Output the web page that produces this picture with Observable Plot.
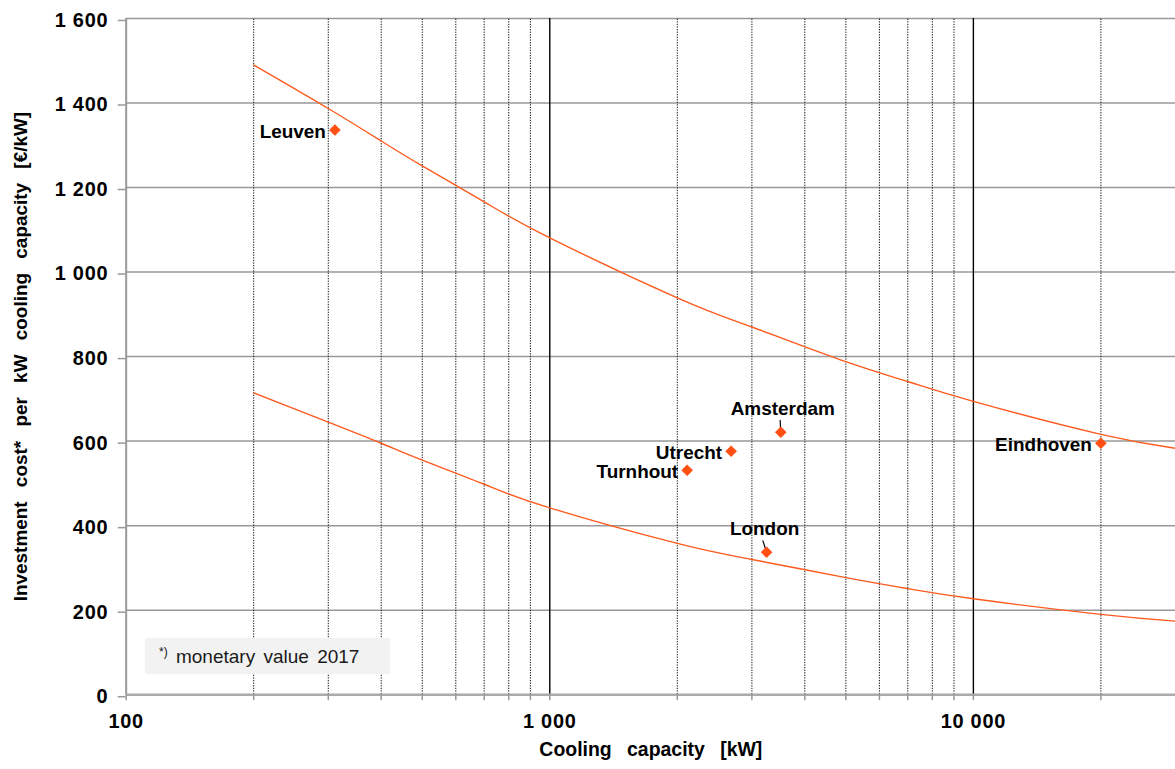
<!DOCTYPE html>
<html><head><meta charset="utf-8">
<script src="https://cdn.jsdelivr.net/npm/d3@7"></script>
<script src="https://cdn.jsdelivr.net/npm/@observablehq/plot@0.6"></script>
<style>
html,body{margin:0;padding:0;overflow:hidden;background:#fff;}
#wrap{position:relative;width:1175px;height:769px;overflow:hidden;}
#wrap svg{position:absolute;left:0;top:0;}
.note{position:absolute;left:145px;top:638px;width:245px;height:36px;background:#f2f2f2;font:19px "Liberation Sans",Arial,sans-serif;color:#1a1a1a;line-height:37px;padding-left:14px;box-sizing:border-box;word-spacing:3px;white-space:nowrap}
.note sup{font-size:12px;vertical-align:7px;line-height:0;word-spacing:0}
</style></head><body><div id="wrap"></div>
<script>
// ---- data ----
const xTickValues = [100,200,300,400,500,600,700,800,900,1000,2000,3000,4000,5000,6000,7000,8000,9000,10000,20000];
const xMajor = [1000, 10000];
const xLabelled = [100, 1000, 10000];
const yTickValues = [0,200,400,600,800,1000,1200,1400,1600];

const curveCapacity = [200,300,400,500,700,1000,2000,3000,5000,7000,10000,20000,30000];
const upperCost = [1490,1387,1310,1251,1166,1081,939,870,788,741,694,616,583];
const lowerCost = [714,645,595,555,498,442,358,320,277,251,227,190,174];

const cities = ["Leuven","Turnhout","Utrecht","Amsterdam","London","Eindhoven"];
const cityCapacity = [311,2110,2680,3510,3250,20000];
const cityCost = [1336,531,576,621,337,595];
const labelledAbove = ["Amsterdam","London"];

// ---- tables ----
const upper = curveCapacity.map((c,i)=>({x:c, y:upperCost[i]}));
const lower = curveCapacity.map((c,i)=>({x:c, y:lowerCost[i]}));
const pts = cities.map((n,i)=>({city:n, x:cityCapacity[i], y:cityCost[i]}));
const ptsLeft = pts.filter(d=>!labelledAbove.includes(d.city));
const ptsAbove = pts.filter(d=>labelledAbove.includes(d.city));
const xMinor = xTickValues.filter(v=>v!==100 && !xMajor.includes(v));

const loc = d3.formatLocale({decimal:".", thousands:"\u00a0", grouping:[3], currency:["",""]});
const fmt = loc.format(",");

const orange = "#ff4f12";
const lineColor = "#ff5a1e";
const font = '"Liberation Sans", Arial, Helvetica, sans-serif';
const yTitle = "Investment cost* per kW cooling capacity [€/kW]";
const xTitle = "Cooling capacity [kW]";

const leader = {draw(ctx, l){ ctx.moveTo(0,0); ctx.lineTo(0,-l); }};

const chart = Plot.plot({
  width: 1178,
  height: 769,
  marginLeft: 126,
  marginRight: 0,
  marginTop: 18,
  marginBottom: 73,
  style: {fontFamily: font, fontSize: "20px", fontWeight: "bold", background: "white", overflow: "visible"},
  x: {type: "log", domain: [100, 30000]},
  y: {domain: [0, 1600]},
  marks: [
    Plot.ruleY(yTickValues.filter(v=>v>0), {stroke: "#999", strokeWidth: 1.5}),
    Plot.ruleX(xMinor, {y1: 0, y2: 1600, stroke: "#111", strokeWidth: 1, strokeDasharray: "1.3,1.3"}),
    Plot.ruleX(xMajor, {y1: 0, y2: 1600, stroke: "#000", strokeWidth: 1.4}),
    Plot.ruleX([100], {y1: 0, y2: 1600, stroke: "#999", strokeWidth: 2}),
    Plot.ruleY([0], {stroke: "#aaa", strokeWidth: 2.5}),
    Plot.axisY({ticks: yTickValues, tickFormat: fmt, tickSize: 8, tickPadding: 10, stroke: "#999", strokeWidth: 1.5, fill: "black", label: null, dy: 2, fontWeight: "bold"}),
    Plot.axisX({ticks: xTickValues, tickFormat: d => xLabelled.includes(d) ? fmt(d) : "", tickSize: 6, tickPadding: 13, stroke: "#999", strokeWidth: 1.5, fill: "black", label: null, fontWeight: "bold"}),
    Plot.line(upper, {x: "x", y: "y", curve: "natural", stroke: lineColor, strokeWidth: 1.4}),
    Plot.line(lower, {x: "x", y: "y", curve: "natural", stroke: lineColor, strokeWidth: 1.4}),
    Plot.vector(ptsAbove, {x: "x", y: "y", length: 12, anchor: "start", shape: leader, rotate: d => d.city === "London" ? -18 : -3, stroke: "black", strokeWidth: 1.2}),
    Plot.dot(pts, {x: "x", y: "y", symbol: "diamond2", r: 5, fill: orange, stroke: orange, strokeWidth: 0.5}),
    Plot.text(ptsLeft, {x: "x", y: "y", text: "city", textAnchor: "end", dx: -9, dy: 2, fontSize: 19, fontWeight: "bold", fill: "black"}),
    Plot.text(ptsAbove.filter(d => d.city === "Amsterdam"), {x: "x", y: "y", text: "city", dx: 2, dy: -23, fontSize: 19, fontWeight: "bold", fill: "black", textAnchor: "middle"}),
    Plot.text(ptsAbove.filter(d => d.city === "London"), {x: "x", y: "y", text: "city", dx: -2, dy: -23, fontSize: 19, fontWeight: "bold", fill: "black", textAnchor: "middle"}),
    Plot.text([yTitle], {frameAnchor: "left", text: d => d, rotate: -90, dx: -106, textAnchor: "middle", lineAnchor: "middle", fontSize: 19, fontWeight: "bold", fill: "black"}),
    Plot.text([xTitle], {frameAnchor: "bottom", text: d => d, dy: 55, textAnchor: "middle", lineAnchor: "middle", fontSize: 19.5, fontWeight: "bold", fill: "black"})
  ]
});
document.getElementById("wrap").appendChild(chart);
d3.select(chart).selectAll("text").each(function(){
  const t = this.textContent;
  if (t === yTitle) this.style.wordSpacing = "9px";
  else if (t === xTitle) this.style.wordSpacing = "10px";
});
d3.select(chart).selectAll('g[aria-label="x-axis tick label"] text, g[aria-label="y-axis tick label"] text').style("letter-spacing", "0.7px");
const note = document.createElement("div");
note.className = "note";
note.innerHTML = "<sup>*)</sup> monetary value 2017";
document.getElementById("wrap").appendChild(note);
</script></body></html>
